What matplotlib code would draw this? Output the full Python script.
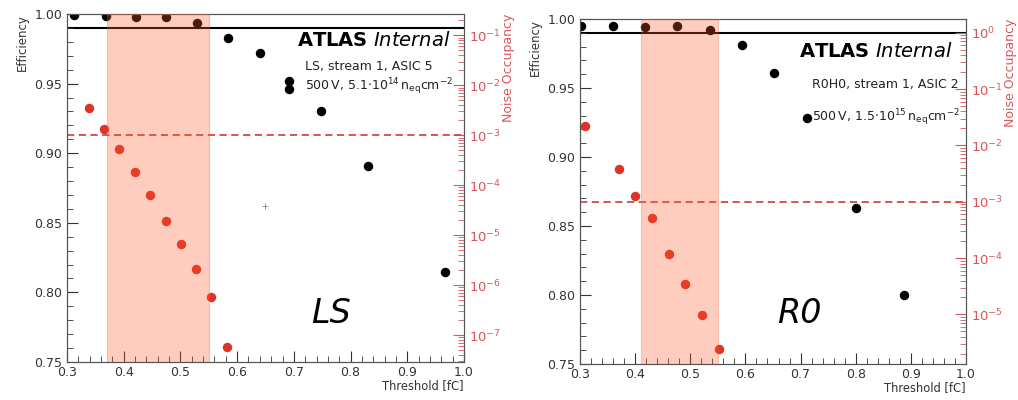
import matplotlib
matplotlib.use('Agg')
import matplotlib.pyplot as plt
from matplotlib.ticker import MultipleLocator, LogLocator, NullFormatter, FormatStrFormatter

# ---------------- data: LS panel ----------------
ls_eff_thr = [0.312, 0.368, 0.421, 0.475, 0.530, 0.584, 0.640, 0.692, 0.692, 0.748, 0.831, 0.967]
ls_eff = [0.9993, 0.9988, 0.9979, 0.9979, 0.9936, 0.983, 0.972, 0.952, 0.946, 0.930, 0.8905, 0.815]
ls_noise_thr = [0.339, 0.365, 0.392, 0.420, 0.446, 0.475, 0.501, 0.528, 0.554, 0.582]
ls_noise = [3.57e-3, 1.36e-3, 5.2e-4, 1.8e-4, 6.3e-5, 1.9e-5, 6.6e-6, 2.1e-6, 5.8e-7, 5.8e-8]
ls_stray_thr = [0.649]
ls_stray_eff = [0.862]
ls_band = [0.37, 0.55]

# ---------------- data: R0 panel ----------------
r0_eff_thr = [0.302, 0.359, 0.417, 0.476, 0.535, 0.593, 0.652, 0.711, 0.801, 0.888]
r0_eff = [0.9947, 0.9947, 0.994, 0.9947, 0.9918, 0.981, 0.961, 0.928, 0.863, 0.800]
r0_noise_thr = [0.309, 0.370, 0.399, 0.431, 0.461, 0.491, 0.521, 0.552]
r0_noise = [2.17e-2, 3.8e-3, 1.29e-3, 5.1e-4, 1.2e-4, 3.5e-5, 9.8e-6, 2.4e-6]
r0_band = [0.41, 0.55]

eff_target = 0.99
noise_target = 1e-3

RED_PT = '#e0312b'
RED_AX = '#d9555a'
BAND = '#ff5a28'

fig = plt.figure(figsize=(10.18, 4.0), dpi=100)


def panel(rect, eff_thr, eff, noise_thr, noise, band, noise_lim, label1, label2, big, big_xy,
          atlas_xy, info_xy, stray=None):
    ax = fig.add_axes(rect)
    ax.set_xlim(0.3, 1.0)
    ax.set_ylim(0.75, 1.0)
    ax.plot(eff_thr, eff, 'o', color='black', ms=5.8, zorder=2)
    if stray is not None:
        ax.plot(stray[0], stray[1], '+', color='#888888', ms=4, mew=0.6)
    ax.axhline(eff_target, color='black', lw=1.5, zorder=1.5)
    ax.xaxis.set_major_locator(MultipleLocator(0.1))
    ax.xaxis.set_minor_locator(MultipleLocator(0.02))
    ax.yaxis.set_major_locator(MultipleLocator(0.05))
    ax.yaxis.set_minor_locator(MultipleLocator(0.01))
    ax.xaxis.set_major_formatter(FormatStrFormatter('%.1f'))
    ax.yaxis.set_major_formatter(FormatStrFormatter('%.2f'))
    ax.tick_params(which='both', direction='in', colors='#333333', labelsize=9)
    ax.tick_params(axis='x', pad=3)
    ax.tick_params(which='major', length=8)
    ax.tick_params(which='minor', length=4)
    ax.tick_params(axis='y', which='both', right=False)
    for s in ax.spines.values():
        s.set_color('#555555')
    ax.set_xlabel('Threshold [fC]', loc='right', fontsize=8.3, color='#333333', labelpad=0)
    ax.set_ylabel('Efficiency', loc='top', fontsize=8.5, color='#333333')

    ax2 = ax.twinx()
    ax2.set_yscale('log')
    ax2.set_ylim(*noise_lim)
    ax2.plot(noise_thr, noise, 'o', color=RED_PT, ms=5.8, zorder=2)
    ax2.axhline(noise_target, color='#d04a4a', lw=1.3, ls=(0, (4, 2.5)), zorder=2)
    ax2.axvspan(band[0], band[1], facecolor=BAND, alpha=0.3, edgecolor='#e06030', lw=0.8, zorder=3)
    ax2.yaxis.set_major_locator(LogLocator(base=10, numticks=20))
    ax2.yaxis.set_minor_locator(LogLocator(base=10, subs=[2, 3, 4, 5, 6, 7, 8, 9], numticks=20))
    ax2.yaxis.set_minor_formatter(NullFormatter())
    ax2.tick_params(which='both', direction='in', colors=RED_AX, labelsize=9.5)
    ax2.tick_params(which='major', length=8)
    ax2.tick_params(which='minor', length=4)
    for s in ax2.spines.values():
        s.set_color('#555555')
    ax2.set_ylabel('Noise Occupancy', loc='top', fontsize=9, color=RED_AX, labelpad=1)

    ax.text(atlas_xy[0], atlas_xy[1], r'$\mathbf{ATLAS}$ $\it{Internal}$', transform=ax.transAxes,
            ha='right', va='center', fontsize=14)
    ax.text(info_xy[0], info_xy[1], label1, transform=ax.transAxes, ha='left', va='center',
            fontsize=9, color='#222222')
    ax.text(info_xy[0], info_xy[2], label2, transform=ax.transAxes, ha='left', va='center',
            fontsize=9, color='#222222')
    ax.text(big_xy[0], big_xy[1], big, transform=ax.transAxes, ha='center', va='center',
            fontsize=24, style='italic')
    return ax, ax2


panel([67 / 1018, 1 - 362 / 400, 397 / 1018, 348 / 400],
      ls_eff_thr, ls_eff, ls_noise_thr, ls_noise, ls_band, (2.88e-8, 0.2685),
      'LS, stream 1, ASIC 5',
      r'500$\,$V, 5.1$\cdot$10$^{14}\,$n$_{\mathrm{eq}}$cm$^{-2}$',
      'LS', (0.665, 0.14), (0.967, 0.925), (0.60, 0.848, 0.791),
      stray=(ls_stray_thr, ls_stray_eff))

panel([580 / 1018, 1 - 364 / 400, 386 / 1018, 345 / 400],
      r0_eff_thr, r0_eff, r0_noise_thr, r0_noise, r0_band, (1.32e-6, 1.75),
      'R0H0, stream 1, ASIC 2',
      r'500$\,$V, 1.5$\cdot$10$^{15}\,$n$_{\mathrm{eq}}$cm$^{-2}$',
      'R0', (0.567, 0.147), (0.964, 0.905), (0.60, 0.809, 0.714))

fig.savefig('out.png', dpi=100)
